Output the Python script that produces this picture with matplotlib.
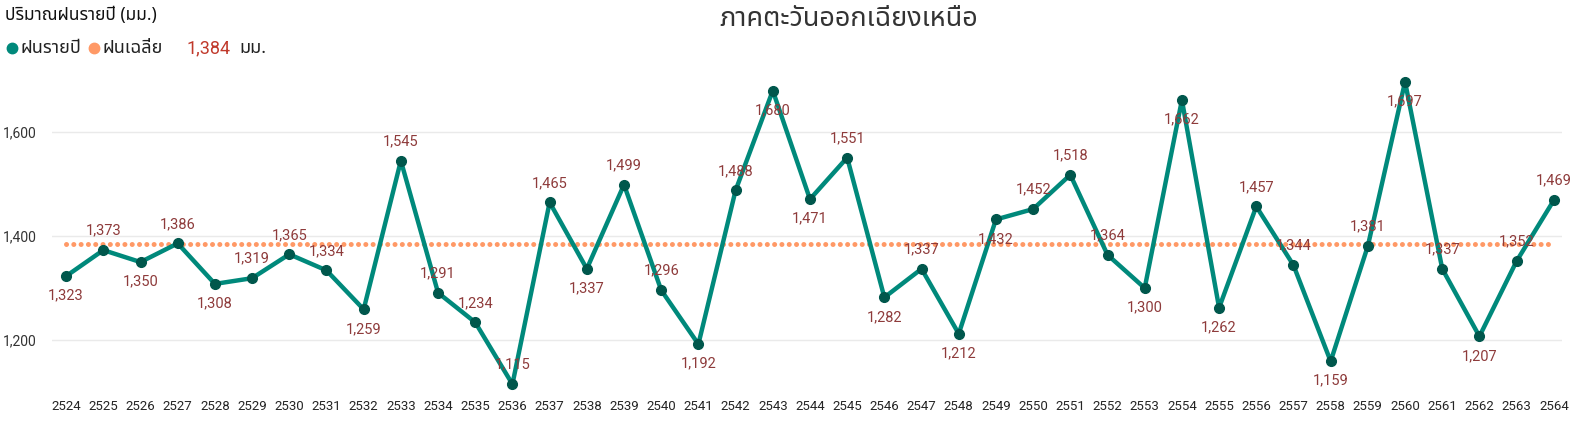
import matplotlib
matplotlib.use("Agg")
import matplotlib.pyplot as plt
from matplotlib.lines import Line2D

years = list(range(2524, 2565))
rain = [1323, 1373, 1350, 1386, 1308, 1319, 1365, 1334, 1259, 1545,
        1291, 1234, 1115, 1465, 1337, 1499, 1296, 1192, 1488, 1680,
        1471, 1551, 1282, 1337, 1212, 1432, 1452, 1518, 1364, 1300,
        1662, 1262, 1457, 1344, 1159, 1381, 1697, 1337, 1207, 1352, 1469]
avg_rain = 1384
# label placement: 1 = above, -1 = below
label_side = [-1, 1, -1, 1, -1, 1, 1, 1, -1, 1,
              1, 1, 1, 1, -1, 1, 1, -1, 1, -1,
              -1, 1, -1, 1, -1, -1, 1, 1, 1, -1,
              -1, -1, 1, 1, -1, 1, -1, 1, -1, 1, 1]
yticks = [1200, 1400, 1600]

title = "ภาคตะวันออกเฉียงเหนือ"
ylabel = "ปริมาณฝนรายปี (มม.)"
leg_series = "ฝนรายปี"
leg_avg = "ฝนเฉลี่ย"
unit = "มม."

THAI = ['Noto Sans', 'Noto Sans Thai', 'DejaVu Sans']
NUM = ['Roboto', 'DejaVu Sans']

teal = "#00897B"
dark = "#00574C"
orange = "#FF9966"
lab = "#8E3B3B"

W, H = 1577, 421
fig = plt.figure(figsize=(W/100, H/100), dpi=100)
ax = fig.add_axes([52/W, 1-392/H, (1562-52)/W, (392-75)/H])

ax.set_xlim(2523.62, 2564.22)
ax.set_ylim(1100, 1710)

for s in ax.spines.values():
    s.set_visible(False)
ax.set_yticks(yticks)
ax.set_yticklabels([f"{v:,}" for v in yticks], fontfamily=NUM, fontsize=10, color="#333333")
ax.set_xticks(years)
ax.set_xticklabels([str(y) for y in years], fontfamily=NUM, fontsize=9.5, color="#252525")
ax.tick_params(axis='both', length=0)
ax.tick_params(axis='y', pad=11)
ax.tick_params(axis='x', pad=6)
ax.grid(axis='y', color="#EAEAEA", linewidth=1)
ax.set_axisbelow(True)

ax.plot(years, [avg_rain]*len(years), color=orange, linewidth=3.6,
        linestyle=(0, (0.01, 1.45)), dash_capstyle='round', zorder=2)
ax.plot(years, rain, color=teal, linewidth=3.2, zorder=3,
        marker='o', markersize=7, markerfacecolor=dark, markeredgecolor=dark)

for x, v, s in zip(years, rain, label_side):
    ax.annotate(f"{v:,}", (x, v), xytext=(0, 14*s), textcoords='offset points',
                ha='center', va='center', fontsize=10.5, color=lab, fontfamily=NUM, zorder=4)

fig.text(849/W, 1-19/H, title, ha='center', va='center', fontsize=19.5, color="#333333", fontfamily=THAI)
fig.text(5/W, 1-15/H, ylabel, ha='left', va='center', fontsize=12.5, color="#111111", fontfamily=THAI)

ly = 1-48/H
fig.add_artist(Line2D([12/W], [ly], marker='o', markersize=7.5, color=teal, transform=fig.transFigure))
fig.text(20/W, ly, leg_series, ha='left', va='center', fontsize=13, color="#222222", fontfamily=THAI)
fig.add_artist(Line2D([94/W], [ly], marker='o', markersize=7.5, color=orange, transform=fig.transFigure))
fig.text(103/W, ly, leg_avg, ha='left', va='center', fontsize=13, color="#222222", fontfamily=THAI)
fig.text(186/W, ly, f"{avg_rain:,}", ha='left', va='center', fontsize=13, color="#C0392B", fontfamily=NUM)
fig.text(239/W, ly, unit, ha='left', va='center', fontsize=13, color="#222222", fontfamily=THAI)

fig.savefig("out.png", dpi=100)
